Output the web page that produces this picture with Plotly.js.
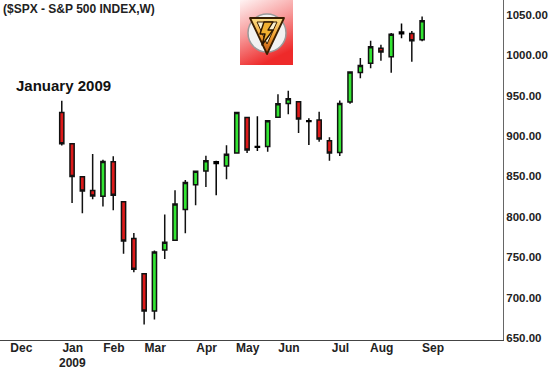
<!DOCTYPE html>
<html>
<head>
<meta charset="utf-8">
<script src="https://cdn.plot.ly/plotly-3.0.1.min.js"></script>
<style>html,body{margin:0;padding:0;background:#fff;}#chart{width:550px;height:370px;}</style>
</head>
<body>
<div id="chart"></div>
<script>
// Weekly S&P 500 candles (week starting Monday)
const weeks = ["2009-01-05","2009-01-12","2009-01-19","2009-01-26","2009-02-02","2009-02-09","2009-02-16","2009-02-23",
  "2009-03-02","2009-03-09","2009-03-16","2009-03-23","2009-03-30","2009-04-06","2009-04-13","2009-04-20","2009-04-27",
  "2009-05-04","2009-05-11","2009-05-18","2009-05-25","2009-06-01","2009-06-08","2009-06-15","2009-06-22","2009-06-29",
  "2009-07-06","2009-07-13","2009-07-20","2009-07-27","2009-08-03","2009-08-10","2009-08-17","2009-08-24","2009-08-31","2009-09-07"];
const opens  = [929.2,890.4,849.6,832.5,825.4,868.2,818.6,773.2,729.6,683.4,758.8,771.0,809.1,839.8,856.9,868.3,862.8,
  879.2,923.0,886.1,887.0,923.3,940.4,942.5,918.1,919.9,894.3,879.6,942.1,978.6,990.2,1008.9,998.2,1026.6,1027.0,1019.4];
const highs  = [943.9,890.4,849.6,877.9,870.8,875.0,818.6,780.1,729.6,758.3,803.0,833.0,845.6,856.9,875.6,869.5,888.7,
  930.2,923.0,924.6,920.0,951.7,956.2,942.5,922.0,930.2,898.7,944.0,979.8,996.7,1018.0,1013.1,1027.6,1039.5,1030.0,1048.2];
const lows   = [888.3,817.0,804.5,821.7,812.9,808.2,754.3,731.3,666.8,672.9,747.7,771.0,779.8,814.5,836.9,826.8,846.5,
  879.2,878.9,881.6,880.6,923.3,927.0,903.8,888.9,893.0,869.3,875.3,940.1,971.7,984.0,993.2,978.5,1021.1,992.0,1017.5];
const closes = [890.4,850.1,831.9,825.9,868.6,826.8,770.1,735.1,683.4,756.6,768.5,815.9,842.5,856.6,869.6,866.2,877.5,
  929.2,882.9,887.0,919.1,940.1,946.2,921.2,918.9,896.4,879.1,940.4,979.3,987.5,1010.5,1004.1,1026.1,1028.9,1018.0,1042.7];

// Month tick labels (first week starting in each month)
const monthTickDates = ["2008-12-01","2009-01-05","2009-02-02","2009-03-02","2009-04-06","2009-05-04","2009-06-01","2009-07-06","2009-08-03","2009-09-07"];
const monthTickText  = ["Dec","Jan","Feb","Mar","Apr","May","Jun","Jul","Aug","Sep"];
const yearLabel = {date:"2009-01-05", text:"2009"};
const priceTicks = [650,700,750,800,850,900,950,1000,1050];

const GREEN = "#33e633", RED = "#dd1a1a", EDGE = "#111111";
const FONT = "Liberation Sans, Arial, sans-serif";

function subset(pred){
  const o={x:[],open:[],high:[],low:[],close:[]};
  weeks.forEach((w,i)=>{ if(pred(i)){ o.x.push(w); o.open.push(opens[i]); o.high.push(highs[i]); o.low.push(lows[i]); o.close.push(closes[i]); }});
  return o;
}
const isDoji = i => Math.abs(closes[i]-opens[i]) < 3;
const main = subset(i=>!isDoji(i));
const doji = subset(isDoji);

const traces = [
  Object.assign({type:"candlestick", whiskerwidth:0, hoverinfo:"skip",
    increasing:{fillcolor:GREEN, line:{color:EDGE, width:1.5}},
    decreasing:{fillcolor:RED, line:{color:EDGE, width:1.5}}}, main),
  Object.assign({type:"candlestick", whiskerwidth:0, hoverinfo:"skip",
    increasing:{fillcolor:"#000", line:{color:"#000", width:1.5}},
    decreasing:{fillcolor:"#000", line:{color:"#000", width:1.5}}}, doji)
];

const logoSvg = '<svg xmlns="http://www.w3.org/2000/svg" width="53" height="65" viewBox="0 0 53 65">'+
 '<defs><linearGradient id="bg" x1="0" y1="0" x2="0.4" y2="1"><stop offset="0" stop-color="#fff4f4"/><stop offset="0.5" stop-color="#f79a9a"/><stop offset="1" stop-color="#ee2a2a"/></linearGradient>'+
 '<linearGradient id="vg" x1="0" y1="0" x2="0" y2="1"><stop offset="0" stop-color="#fbe08a"/><stop offset="0.5" stop-color="#f0a030"/><stop offset="1" stop-color="#c05010"/></linearGradient></defs>'+
 '<rect x="0" y="0" width="53" height="65" fill="url(#bg)"/>'+
 '<circle cx="27" cy="33" r="19" fill="#f2f2f2" stroke="#9a9a9a" stroke-width="1.5"/>'+
 '<polygon points="10,18 44,18 27,54" fill="url(#vg)" stroke="#3a1e00" stroke-width="1.8" stroke-linejoin="round"/>'+
 '<polygon points="17,22 37,22 27,44" fill="#f7f0d0" stroke="#3a1e00" stroke-width="1"/>'+
 '<polygon points="24,22 33,22 28,30 33,30 22,45 25,34 20,34" fill="#f0b030" stroke="#2a1500" stroke-width="1.4" stroke-linejoin="round"/>'+
 '</svg>';

const layout = {
  width:550, height:370,
  margin:{l:0, r:47, t:0, b:30, pad:0},
  paper_bgcolor:"#fff", plot_bgcolor:"#fff",
  showlegend:false, hovermode:false,
  boxgap:0.42,
  font:{family:FONT, size:12, color:"#222", weight:"bold"},
  xaxis:{type:"date", range:["2008-11-24","2009-11-01"], rangeslider:{visible:false},
    tickvals:monthTickDates, ticktext:monthTickText, ticklabelshift:11, ticklabelstandoff:-3,
    tickfont:{family:FONT, size:12, color:"#222", weight:"bold"},
    showgrid:false, zeroline:false, showline:true, linecolor:"#444", linewidth:1, ticks:"", fixedrange:true},
  yaxis:{side:"right", range:[647.5,1068.5], tickvals:priceTicks, tickformat:".2f",
    tickfont:{family:FONT, size:11.5, color:"#222", weight:"bold"},
    showgrid:false, zeroline:false, showline:true, linecolor:"#666", linewidth:1, ticks:"", fixedrange:true},
  annotations:[
    {text:"($SPX - S&P 500 INDEX,W)", xref:"paper", yref:"paper", x:0.002, y:1, xanchor:"left", yanchor:"top",
      showarrow:false, font:{family:FONT, size:12, color:"#222", weight:"bold"}},
    {text:"January 2009", xref:"paper", yref:"paper", x:0.028, y:0.75, xanchor:"left", yanchor:"middle",
      showarrow:false, font:{family:FONT, size:15, color:"#111", weight:"bold"}},
    {text:yearLabel.text, xref:"x", yref:"paper", x:yearLabel.date, y:-23/340, xanchor:"center", yanchor:"middle",
      xshift:11, showarrow:false, font:{family:FONT, size:12, color:"#222", weight:"bold"}}
  ],
  images:[{source:"data:image/svg+xml;charset=utf-8,"+encodeURIComponent(logoSvg), xref:"paper", yref:"paper",
    x:240/503, y:1, sizex:53/503, sizey:65/340, xanchor:"left", yanchor:"top", sizing:"stretch", layer:"below"}]
};

Plotly.newPlot("chart", traces, layout, {staticPlot:true, displayModeBar:false});
</script>
</body>
</html>
